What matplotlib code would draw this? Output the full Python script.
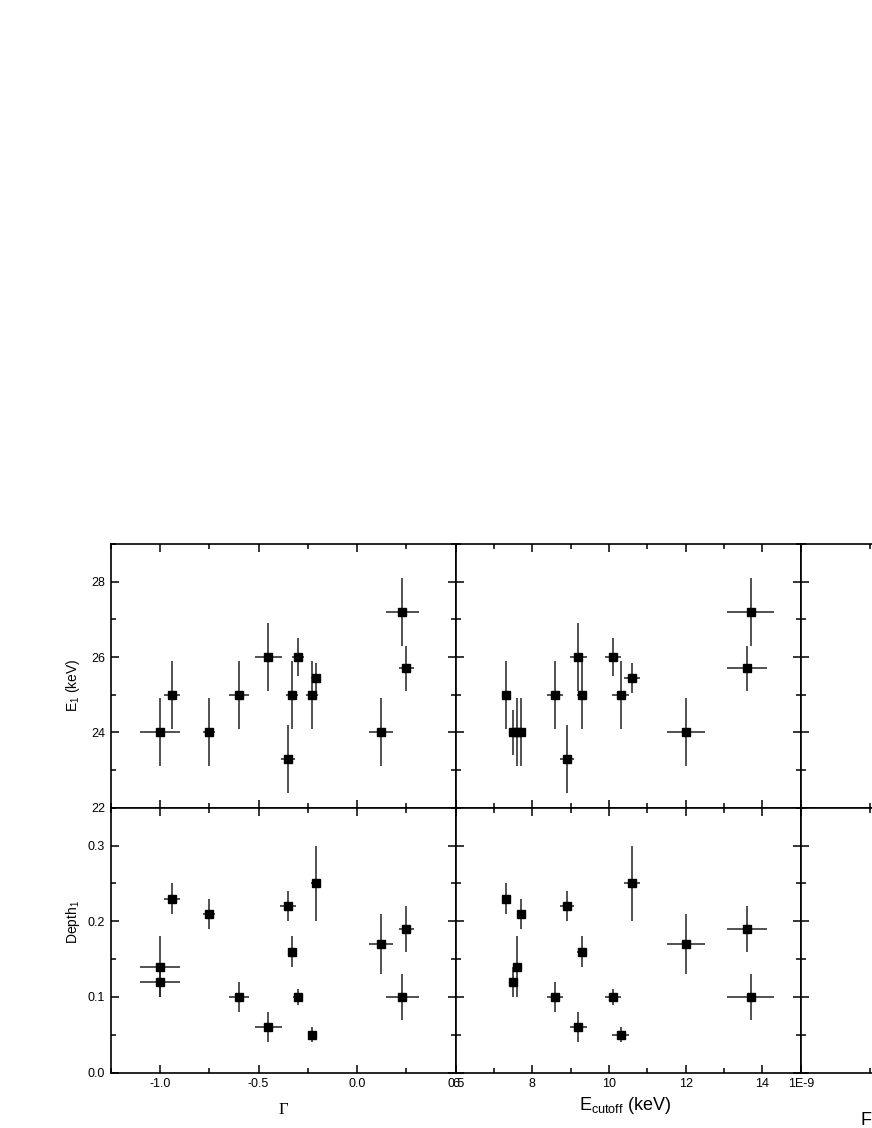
import matplotlib
matplotlib.use("Agg")
import matplotlib.pyplot as plt
from matplotlib.ticker import MultipleLocator, FixedLocator, FixedFormatter, NullFormatter

# ---------------- data ----------------
gamma_top = [-1.0, -0.94, -0.75, -0.60, -0.45, -0.35, -0.33, -0.30, -0.23, -0.21, 0.12, 0.23, 0.25]
gamma_top_err = [0.10, 0.04, 0.03, 0.05, 0.07, 0.035, 0.03, 0.03, 0.03, 0.025, 0.06, 0.083, 0.04]
e1_left = [24.0, 25.0, 24.0, 25.0, 26.0, 23.3, 25.0, 26.0, 25.0, 25.45, 24.0, 27.2, 25.7]
e1_left_err = [0.9, 0.9, 0.9, 0.9, 0.9, 0.9, 0.9, 0.5, 0.9, 0.4, 0.9, 0.9, 0.6]

gamma_bot = [-1.0, -1.0, -0.94, -0.75, -0.60, -0.45, -0.35, -0.33, -0.30, -0.23, -0.21, 0.12, 0.23, 0.25]
gamma_bot_err = [0.10, 0.10, 0.04, 0.03, 0.05, 0.07, 0.04, 0.02, 0.025, 0.02, 0.025, 0.06, 0.083, 0.04]
depth_left = [0.14, 0.12, 0.23, 0.21, 0.10, 0.06, 0.22, 0.16, 0.10, 0.05, 0.25, 0.17, 0.10, 0.19]
depth_left_err = [0.04, 0.02, 0.02, 0.02, 0.02, 0.02, 0.02, 0.02, 0.01, 0.01, 0.05, 0.04, 0.03, 0.03]

ecut_top = [7.3, 7.5, 7.6, 7.7, 8.6, 8.9, 9.2, 9.3, 10.1, 10.3, 10.6, 12.0, 13.7, 13.6]
ecut_top_err = [0.08, 0.05, 0.05, 0.05, 0.21, 0.18, 0.22, 0.13, 0.21, 0.21, 0.21, 0.5, 0.61, 0.51]
e1_mid = [25.0, 24.0, 24.0, 24.0, 25.0, 23.3, 26.0, 25.0, 26.0, 25.0, 25.45, 24.0, 27.2, 25.7]
e1_mid_err = [0.9, 0.6, 0.9, 0.9, 0.9, 0.9, 0.9, 0.9, 0.5, 0.9, 0.4, 0.9, 0.9, 0.6]

ecut_bot = [7.3, 7.7, 7.6, 7.5, 8.6, 8.9, 9.2, 9.3, 10.1, 10.3, 10.6, 12.0, 13.6, 13.7]
ecut_bot_err = [0.08, 0.05, 0.05, 0.05, 0.21, 0.18, 0.22, 0.13, 0.21, 0.21, 0.21, 0.5, 0.51, 0.61]
depth_mid = [0.23, 0.21, 0.14, 0.12, 0.10, 0.22, 0.06, 0.16, 0.10, 0.05, 0.25, 0.17, 0.19, 0.10]
depth_mid_err = [0.02, 0.02, 0.04, 0.02, 0.02, 0.02, 0.02, 0.02, 0.01, 0.01, 0.05, 0.04, 0.03, 0.03]

gamma_ticks = [-1.0, -0.5, 0.0, 0.5]
gamma_tick_labels = ["-1.0", "-0.5", "0.0", "0.5"]
ecut_ticks = [6, 8, 10, 12, 14]
ecut_tick_labels = ["6", "8", "10", "12", "14"]
flux_ticks = [1e-9]
flux_tick_labels = ["1E-9"]
e1_ticks = [22, 24, 26, 28]
depth_ticks = [0.0, 0.1, 0.2, 0.3]
depth_tick_labels = ["0.0", "0.1", "0.2", "0.3"]

# ---------------- style ----------------
plt.rcParams["font.family"] = ["Liberation Sans", "DejaVu Sans"]
plt.rcParams["axes.linewidth"] = 1.2

W, H = 872, 1128
fig = plt.figure(figsize=(W / 100, H / 100), dpi=100)


def px_axes(x0, y0, x1, y1):
    return fig.add_axes([x0 / W, 1 - y1 / H, (x1 - x0) / W, (y1 - y0) / H])


col_x = [110.7, 455.7, 800.7, 1145.7]
row_y = [544.0, 807.7, 1072.7]

axes = {}
for r in range(2):
    for c in range(3):
        axes[(r, c)] = px_axes(col_x[c], row_y[r], col_x[c + 1], row_y[r + 1])

for ax in axes.values():
    ax.tick_params(which="both", direction="in", top=True, right=True,
                   labelsize=9, width=1.1, pad=4)
    ax.tick_params(which="major", length=6)
    ax.tick_params(which="minor", length=3.5)
    for s in ax.spines.values():
        s.set_linewidth(1.2)

ekw = dict(fmt="s", color="black", ms=6, ecolor="#222222", elinewidth=1.1,
           capsize=0, mec="black", mfc="black")

# x axes
for r in range(2):
    a = axes[(r, 0)]
    a.set_xlim(-1.25, 0.5)
    a.xaxis.set_major_locator(FixedLocator(gamma_ticks))
    a.xaxis.set_minor_locator(MultipleLocator(0.25))
    b = axes[(r, 1)]
    b.set_xlim(6, 15)
    b.xaxis.set_major_locator(FixedLocator(ecut_ticks))
    b.xaxis.set_minor_locator(MultipleLocator(1))
    c = axes[(r, 2)]
    c.set_xlim(1e-9, 3.5e-9)
    c.xaxis.set_major_locator(FixedLocator(flux_ticks))
    c.xaxis.set_minor_locator(MultipleLocator(0.5e-9))

# y axes
for c in range(3):
    a = axes[(0, c)]
    a.set_ylim(22, 29)
    a.yaxis.set_major_locator(FixedLocator(e1_ticks))
    a.yaxis.set_minor_locator(MultipleLocator(1))
    b = axes[(1, c)]
    b.set_ylim(0, 0.35)
    b.yaxis.set_major_locator(FixedLocator(depth_ticks))
    b.yaxis.set_minor_locator(MultipleLocator(0.05))

# tick labels
for ax in axes.values():
    ax.xaxis.set_major_formatter(NullFormatter())
    ax.yaxis.set_major_formatter(NullFormatter())

axes[(0, 0)].yaxis.set_major_formatter(FixedFormatter([str(v) for v in e1_ticks]))
axes[(1, 0)].yaxis.set_major_formatter(FixedFormatter(depth_tick_labels))
axes[(1, 0)].xaxis.set_major_formatter(FixedFormatter(gamma_tick_labels))
axes[(1, 1)].xaxis.set_major_formatter(FixedFormatter(ecut_tick_labels))
axes[(1, 2)].xaxis.set_major_formatter(FixedFormatter(flux_tick_labels))

# data
axes[(0, 0)].errorbar(gamma_top, e1_left, xerr=gamma_top_err, yerr=e1_left_err, **ekw)
axes[(1, 0)].errorbar(gamma_bot, depth_left, xerr=gamma_bot_err, yerr=depth_left_err, **ekw)
axes[(0, 1)].errorbar(ecut_top, e1_mid, xerr=ecut_top_err, yerr=e1_mid_err, **ekw)
axes[(1, 1)].errorbar(ecut_bot, depth_mid, xerr=ecut_bot_err, yerr=depth_mid_err, **ekw)

# labels
fig.text(73 / W, 1 - 685 / H, r"E$_\mathregular{1}$ (keV)", rotation=90,
         ha="center", va="center", fontsize=10)
fig.text(73 / W, 1 - 922 / H, r"Depth$_\mathregular{1}$", rotation=90,
         ha="center", va="center", fontsize=10)
fig.text(283 / W, 1 - 1110 / H, "\u0393", family=["Liberation Serif", "DejaVu Serif"],
         ha="center", va="center", fontsize=12)
fig.text(625 / W, 1 - 1106 / H, r"E$_\mathregular{cutoff}$ (keV)",
         ha="center", va="center", fontsize=13)
fig.text(860 / W, 1 - 1120 / H, r"Flux (erg cm$^\mathregular{-2}$ s$^\mathregular{-1}$)",
         ha="left", va="center", fontsize=13)

fig.savefig("out.png", dpi=100)
